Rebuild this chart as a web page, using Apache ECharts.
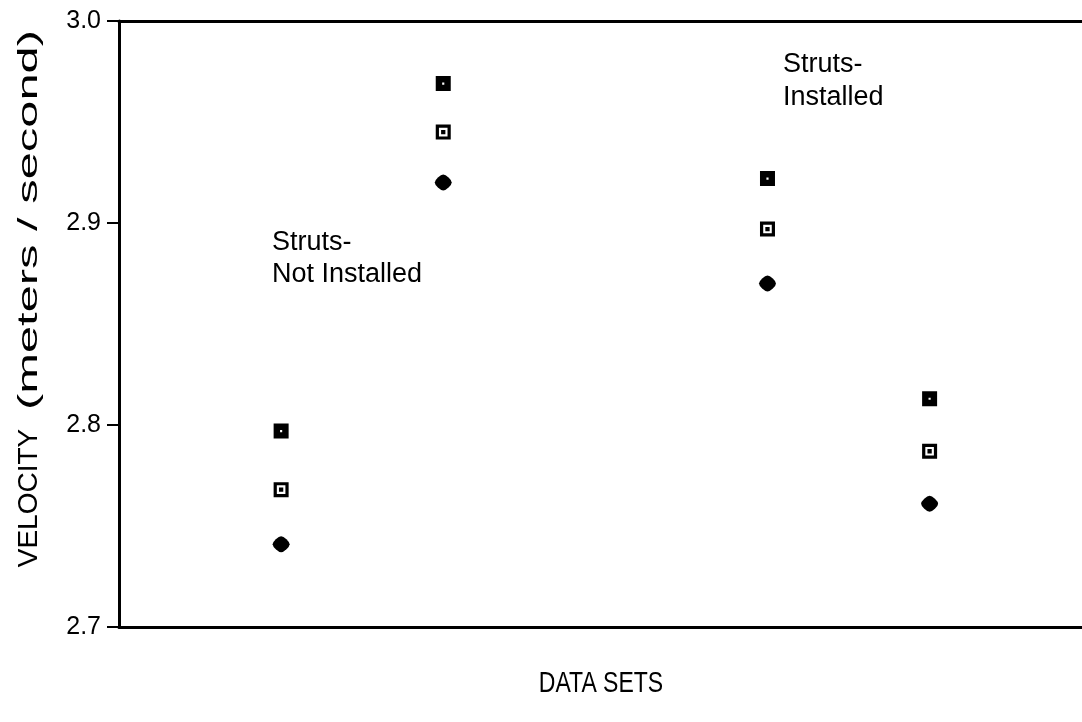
<!DOCTYPE html>
<html>
<head>
<meta charset="utf-8">
<script src="https://cdn.jsdelivr.net/npm/echarts@6/dist/echarts.min.js"></script>
<style>
  html, body { margin: 0; padding: 0; background: #ffffff; }
  #chart { width: 1082px; height: 722px; }
</style>
</head>
<body>
<div id="chart"></div>
<script>
// Data set positions along the horizontal axis
const dataSets = [1, 2, 4, 5];
// Measured velocities (m/s) for each data set
const upperValues  = [2.797, 2.969, 2.922, 2.813]; // filled squares
const middleValues = [2.768, 2.945, 2.897, 2.787]; // open squares
const lowerValues  = [2.741, 2.920, 2.870, 2.761]; // diamonds
const yTicks = [2.7, 2.8, 2.9, 3.0];

const FONT = '"Liberation Sans", Arial, Helvetica, sans-serif';

// Marker outlines (inner sub-paths run the other way to cut holes)
const filledSquare = 'path://M0,0H14V14H0Z M6,6V8H8V6Z';
const openSquare = 'path://M0,0H14V14H0Z M3,3V11H11V3Z M5,5H9V9H5Z';
const roundDiamond = 'path://M8,0 Q10,0 13,3 Q16,6 16,8 Q16,10 13,13 Q10,16 8,16 Q6,16 3,13 Q0,10 0,8 Q0,6 3,3 Q6,0 8,0Z';

const pairs = vals => dataSets.map((x, i) => [x, vals[i]]);

// Stretch a text run along its baseline so it spans a given length
function textWidth(str, size) {
  const ctx = document.createElement('canvas').getContext('2d');
  ctx.font = size + 'px ' + FONT;
  return ctx.measureText(str).width;
}
const unitsLabel = '(meters / second)';
const unitsSize = 28;
const unitsStretch = 380 / textWidth(unitsLabel, unitsSize);

const axisLineStyle = { color: '#000', width: 3 };

const chart = echarts.init(document.getElementById('chart'), null, { renderer: 'canvas' });

chart.setOption({
  backgroundColor: '#ffffff',
  animation: false,
  grid: { left: 119, top: 21, right: 0, height: 606, show: false },
  xAxis: [
    {
      type: 'value', min: 0, max: 5.94, position: 'bottom',
      axisLine: { show: true, lineStyle: axisLineStyle },
      axisTick: { show: false }, axisLabel: { show: false }, splitLine: { show: false }
    },
    {
      type: 'value', min: 0, max: 5.94, position: 'top',
      axisLine: { show: true, lineStyle: axisLineStyle },
      axisTick: { show: false }, axisLabel: { show: false }, splitLine: { show: false }
    }
  ],
  yAxis: {
    type: 'value', min: yTicks[0], max: yTicks[yTicks.length - 1], interval: 0.1,
    axisLine: { show: true, lineStyle: axisLineStyle },
    axisTick: { show: true, inside: false, length: 12, lineStyle: { color: '#000', width: 2 } },
    axisLabel: {
      color: '#000', fontSize: 25, fontFamily: FONT, margin: 18,
      formatter: v => v.toFixed(1)
    },
    splitLine: { show: false }
  },
  series: [
    { type: 'scatter', data: pairs(upperValues), symbol: filledSquare, symbolSize: [15, 15],
      itemStyle: { color: '#000', opacity: 1 } },
    { type: 'scatter', data: pairs(middleValues), symbol: openSquare, symbolSize: [15, 15],
      itemStyle: { color: '#000', opacity: 1 } },
    { type: 'scatter', data: pairs(lowerValues), symbol: roundDiamond, symbolSize: [17, 16],
      itemStyle: { color: '#000', opacity: 1 } }
  ],
  graphic: [
    { type: 'text', left: 272, top: 227,
      style: { text: 'Struts-\nNot Installed', fontSize: 27, lineHeight: 32, fontFamily: FONT, fill: '#000' } },
    { type: 'text', left: 783, top: 48,
      style: { text: 'Struts-\nInstalled', fontSize: 27, lineHeight: 33, fontFamily: FONT, fill: '#000' } },
    { type: 'text', x: 29, y: 498, rotation: Math.PI / 2,
      style: { text: 'VELOCITY', fontSize: 28, fontFamily: FONT, fill: '#000',
               align: 'center', verticalAlign: 'middle' } },
    { type: 'text', x: 29, y: 220, rotation: Math.PI / 2, scaleX: unitsStretch,
      style: { text: unitsLabel, fontSize: unitsSize, fontFamily: FONT, fill: '#000',
               align: 'center', verticalAlign: 'middle' } },
    { type: 'text', x: 601, y: 684, scaleY: 1.25,
      style: { text: 'DATA SETS', fontSize: 23, fontFamily: FONT, fill: '#000',
               align: 'center', verticalAlign: 'middle' } }
  ]
});
</script>
</body>
</html>
